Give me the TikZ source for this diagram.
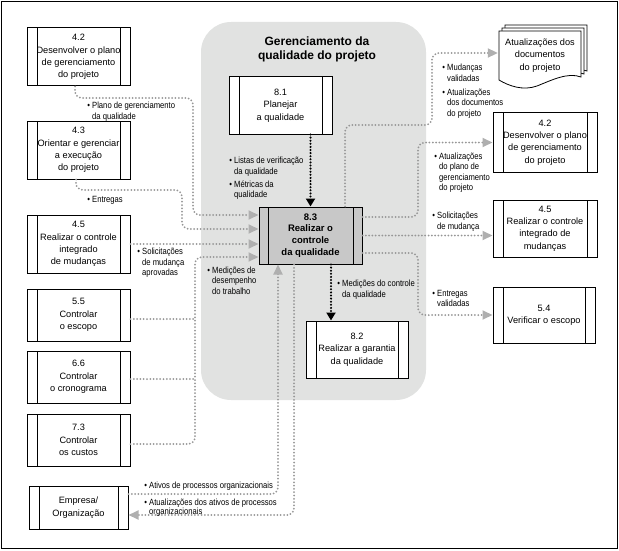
\documentclass[tikz,border=0pt]{standalone}
\usepackage{fontspec}
\setmainfont{Liberation Sans}
\newfontfamily\labfont[FakeStretch=0.85]{Liberation Sans}
\usetikzlibrary{arrows.meta}
\definecolor{regiongray}{RGB}{225,226,225}
\definecolor{boxgray}{RGB}{200,200,200}
\definecolor{dotgray}{RGB}{150,150,150}
\definecolor{tipgray}{RGB}{175,175,175}
\tikzset{
  proc/.style={draw=black, line width=1pt, inner sep=0pt, align=center, fill=white,
    font=\fontsize{9.2}{12.3}\selectfont,
    path picture={\draw[line width=1pt]
      ([xshift=#1]path picture bounding box.north west) -- ([xshift=#1]path picture bounding box.south west)
      ([xshift=-#1]path picture bounding box.north east) -- ([xshift=-#1]path picture bounding box.south east);}},
  proc/.default=10pt,
  gl/.style={draw=dotgray, line width=2pt, line cap=round, dash pattern=on 0pt off 3.3pt, rounded corners=7pt},
  gla/.style={gl, -{Triangle[length=10pt,width=9pt,color=tipgray,fill=tipgray]}},
  bla/.style={draw=black, line width=2.3pt, line cap=round, dash pattern=on 0pt off 3.1pt,
    -{Triangle[length=8pt,width=9pt,color=black,fill=black]}},
  lab/.style={anchor=north west, inner sep=0pt, align=left, font=\labfont\fontsize{9}{10.8}\selectfont},
  docpage/.style={draw=black, line width=0.8pt, fill=white}
}
\newcommand\bl{\llap{•\ }}
\begin{document}
\begin{tikzpicture}[x=1pt,y=-1pt]
\useasboundingbox (0,0) rectangle (619,551);
\draw[line width=1pt] (1.5,1.5) rectangle (617.5,548);
% grey region
\fill[regiongray, rounded corners=30pt] (201,22) rectangle (426,400);
\node[font=\bfseries\fontsize{12}{13.5}\selectfont, align=center] (title) at (317,49.5) {Gerenciamento da\\qualidade do projeto};

% left column
\node[proc, minimum width=103pt, minimum height=58pt] (l42) at (78.5,57) {4.2\\Desenvolver o plano\\de gerenciamento\\do projeto};
\node[proc, minimum width=103pt, minimum height=58pt] (l43) at (78.5,150) {4.3\\Orientar e gerenciar\\a execução\\do projeto};
\node[proc, minimum width=103pt, minimum height=58pt] (l45) at (78.5,244) {4.5\\Realizar o controle\\integrado\\de mudanças};
\node[proc, minimum width=103pt, minimum height=52pt] (l55) at (78.5,315) {5.5\\Controlar\\o escopo};
\node[proc, minimum width=103pt, minimum height=52pt] (l66) at (78.5,377) {6.6\\Controlar\\o cronograma};
\node[proc, minimum width=103pt, minimum height=52pt] (l73) at (78.5,440) {7.3\\Controlar\\os custos};
\node[proc, minimum width=99pt, minimum height=43pt] (emp) at (78.5,507.5) {Empresa/\\Organização};

% centre
\node[proc, minimum width=103pt, minimum height=57pt] (p81) at (280.5,105.5) {8.1\\Planejar\\a qualidade};
\node[proc=9pt, minimum width=103pt, minimum height=57pt, fill=boxgray, font=\bfseries\fontsize{9.5}{11.8}\selectfont] (p83) at (310.5,235.5) {8.3\\Realizar o\\controle\\da qualidade};
\node[proc, minimum width=102pt, minimum height=57pt] (p82) at (357,349.5) {8.2\\Realizar a garantia\\da qualidade};

% right column
\node[proc, minimum width=104pt, minimum height=59pt] (r42) at (545,142.5) {4.2\\Desenvolver o plano\\de gerenciamento\\do projeto};
\node[proc, minimum width=104pt, minimum height=57pt] (r45) at (545,228.5) {4.5\\Realizar o controle\\integrado de\\mudanças};
\node[proc, minimum width=102pt, minimum height=56pt] (r54) at (544,315) {5.4\\Verificar o escopo};

% document (stacked pages)
\foreach \dx/\dy in {6/-6,3/-3,0/0}{
  \draw[docpage, shift={(\dx,\dy)}] (499,31) -- (581,31) -- (581,77)
    .. controls (568,72) and (552,80) .. (537,86)
    .. controls (523,91) and (509,86) .. (499,80) -- cycle;
}
\node[inner sep=0pt, align=center, font=\fontsize{9.2}{12.4}\selectfont, minimum width=82pt, minimum height=49pt] (doc) at (540,55.5) {Atualizações dos\\documentos\\do projeto};

% inputs to 8.3
\draw[gla] ([xshift=-3.5pt]l42.south) |- (193,98) |- ([yshift=20.5pt]p83.west);
\draw[gla] ([xshift=-2.5pt]l43.south) |- (182,190) |- ([yshift=6.5pt]p83.west);
\draw[gla] (l45.east) -- (p83.west |- l45.east);
\draw[gla] ([yshift=-4pt]l73.east) -| (195,257) -- ([yshift=-21.5pt]p83.west);
\draw[gl] ([yshift=-4pt]l55.east) -- (195,319);
\draw[gl] ([yshift=-2pt]l66.east) -- (195,379);
\draw[gla] ([yshift=13.5pt]emp.east) -| ([xshift=-32.5pt]p83.south);
\draw[gla] ([xshift=-16.5pt]p83.south) |- ([yshift=-7.5pt]emp.east);

% black flows
\draw[bla] (p83.north |- p81.south) -- (p83.north);
\draw[bla] ([xshift=20.5pt]p83.south) -- ([xshift=20.5pt]p83.south |- p82.north);

% outputs of 8.3
\draw[gla] ([xshift=34.5pt]p83.north) |- (432,125) |- ([yshift=2.5pt,xshift=-1pt]doc.west);
\draw[gla] ([yshift=18.5pt]p83.east) -| (418,142.5) -- (r42.west);
\draw[gla] (p83.east) -- (r45.west |- p83.east);
\draw[gla] ([yshift=-17.5pt]p83.east) -| (418,315) -- (r54.west);

% labels
\node[lab] (t1) at (92,101.7) {\bl Plano de gerenciamento\\da qualidade};
\node[lab] (t2) at (92,195.7) {\bl Entregas};
\node[lab, font=\labfont\fontsize{9}{10.5}\selectfont] (t3) at (142,248) {\bl Solicitações\\de mudança\\aprovadas};
\node[lab, font=\labfont\fontsize{9}{10.2}\selectfont] (t4) at (212,267) {\bl Medições de\\desempenho\\do trabalho};
\node[lab] (t5) at (234,156.7) {\bl Listas de verificação\\da qualidade};
\node[lab, font=\labfont\fontsize{9}{10.2}\selectfont] (t6) at (234,180.7) {\bl Métricas da\\qualidade};
\node[lab] (t7) at (342,279.7) {\bl Medições do controle\\da qualidade};
\node[lab] (t8) at (149,481.7) {\bl Ativos de processos organizacionais};
\node[lab, font=\labfont\fontsize{9}{9.5}\selectfont] (t9) at (149,498.7) {\bl Atualizações dos ativos de processos\\organizacionais};
\node[lab] (t10) at (447,63.7) {\bl Mudanças\\validadas};
\node[lab, font=\labfont\fontsize{9}{10.4}\selectfont] (t11) at (447,88.7) {\bl Atualizações\\dos documentos\\do projeto};
\node[lab, font=\labfont\fontsize{9}{10.4}\selectfont] (t12) at (439,152.7) {\bl Atualizações\\do plano de\\gerenciamento\\do projeto};
\node[lab] (t13) at (437,211.7) {\bl Solicitações\\de mudança};
\node[lab] (t14) at (437,289.7) {\bl Entregas\\validadas};
\end{tikzpicture}
\end{document}
